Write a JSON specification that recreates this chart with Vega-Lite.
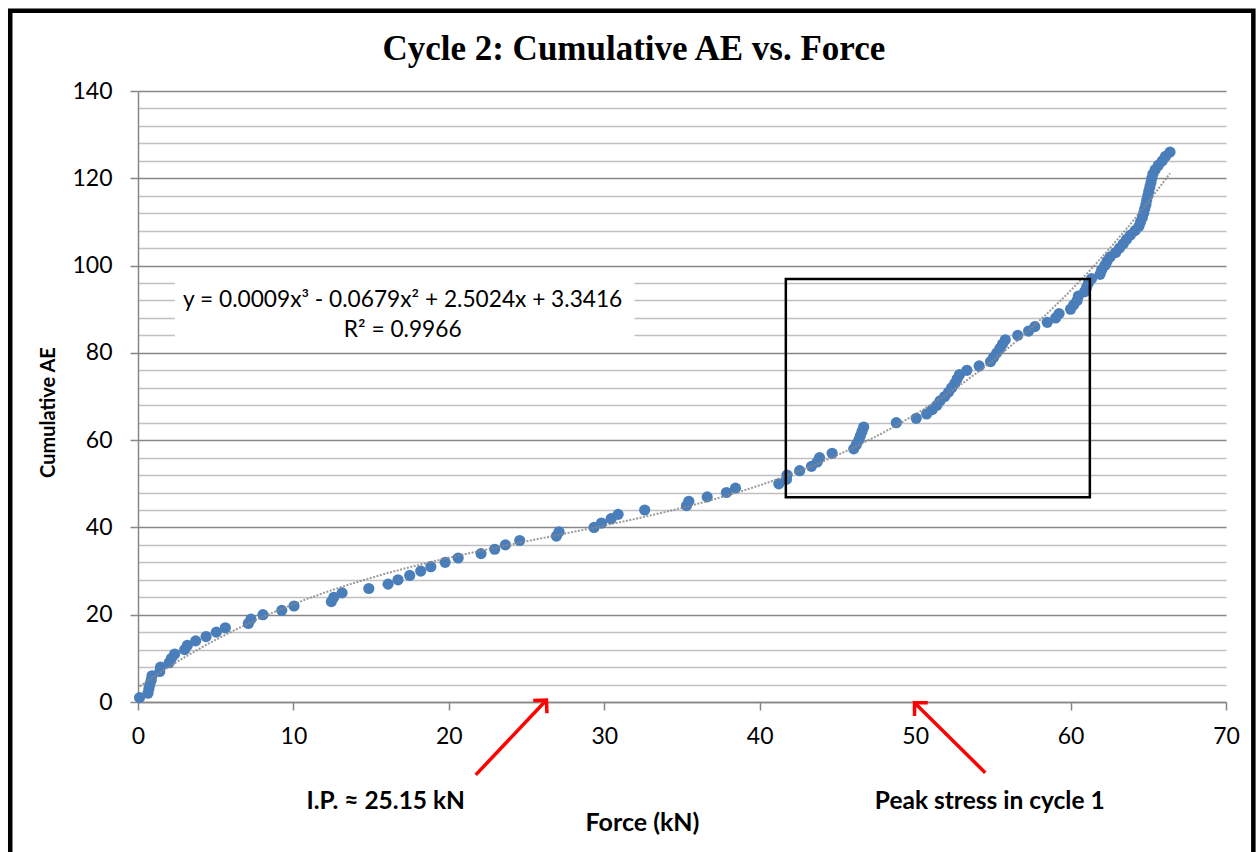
{
  "$schema": "https://vega.github.io/schema/vega-lite/v6.json",
  "autosize": {"type": "none"},
  "width": 1088,
  "height": 611,
  "padding": {"left": 138, "top": 91, "right": 31, "bottom": 150},
  "background": "#ffffff",
  "config": {"view": {"stroke": null}},
  "datasets": {
    "ae": [
      {"force": 0.1, "ae": 1}, {"force": 0.64, "ae": 2}, {"force": 0.7, "ae": 3}, {"force": 0.76, "ae": 4}, {"force": 0.85, "ae": 5},
      {"force": 0.9, "ae": 6}, {"force": 1.4, "ae": 7}, {"force": 1.45, "ae": 8}, {"force": 2.0, "ae": 9}, {"force": 2.15, "ae": 10},
      {"force": 2.36, "ae": 11}, {"force": 3.0, "ae": 12}, {"force": 3.18, "ae": 13}, {"force": 3.71, "ae": 14}, {"force": 4.38, "ae": 15},
      {"force": 5.04, "ae": 16}, {"force": 5.62, "ae": 17}, {"force": 7.1, "ae": 18}, {"force": 7.27, "ae": 19}, {"force": 8.04, "ae": 20},
      {"force": 9.25, "ae": 21}, {"force": 10.04, "ae": 22}, {"force": 12.44, "ae": 23}, {"force": 12.6, "ae": 24}, {"force": 13.13, "ae": 25},
      {"force": 14.85, "ae": 26}, {"force": 16.09, "ae": 27}, {"force": 16.73, "ae": 28}, {"force": 17.48, "ae": 29}, {"force": 18.19, "ae": 30},
      {"force": 18.84, "ae": 31}, {"force": 19.76, "ae": 32}, {"force": 20.6, "ae": 33}, {"force": 22.07, "ae": 34}, {"force": 22.95, "ae": 35},
      {"force": 23.64, "ae": 36}, {"force": 24.56, "ae": 37}, {"force": 26.92, "ae": 38}, {"force": 27.09, "ae": 39}, {"force": 29.34, "ae": 40},
      {"force": 29.82, "ae": 41}, {"force": 30.44, "ae": 42}, {"force": 30.89, "ae": 43}, {"force": 32.6, "ae": 44}, {"force": 35.29, "ae": 45},
      {"force": 35.44, "ae": 46}, {"force": 36.62, "ae": 47}, {"force": 37.86, "ae": 48}, {"force": 38.44, "ae": 49}, {"force": 41.23, "ae": 50},
      {"force": 41.72, "ae": 51}, {"force": 41.76, "ae": 52}, {"force": 42.57, "ae": 53}, {"force": 43.33, "ae": 54}, {"force": 43.7, "ae": 55},
      {"force": 43.85, "ae": 56}, {"force": 44.66, "ae": 57}, {"force": 46.05, "ae": 58}, {"force": 46.22, "ae": 59}, {"force": 46.37, "ae": 60},
      {"force": 46.48, "ae": 61}, {"force": 46.58, "ae": 62}, {"force": 46.69, "ae": 63}, {"force": 48.79, "ae": 64}, {"force": 50.07, "ae": 65},
      {"force": 50.74, "ae": 66}, {"force": 51.1, "ae": 67}, {"force": 51.4, "ae": 68}, {"force": 51.6, "ae": 69}, {"force": 51.9, "ae": 70},
      {"force": 52.15, "ae": 71}, {"force": 52.35, "ae": 72}, {"force": 52.55, "ae": 73}, {"force": 52.7, "ae": 74}, {"force": 52.85, "ae": 75},
      {"force": 53.33, "ae": 76}, {"force": 54.12, "ae": 77}, {"force": 54.85, "ae": 78}, {"force": 55.05, "ae": 79}, {"force": 55.25, "ae": 80},
      {"force": 55.45, "ae": 81}, {"force": 55.62, "ae": 82}, {"force": 55.8, "ae": 83}, {"force": 56.6, "ae": 84}, {"force": 57.3, "ae": 85},
      {"force": 57.7, "ae": 86}, {"force": 58.5, "ae": 87}, {"force": 59.04, "ae": 88}, {"force": 59.26, "ae": 89}, {"force": 60.0, "ae": 90},
      {"force": 60.2, "ae": 91}, {"force": 60.42, "ae": 92}, {"force": 60.5, "ae": 93}, {"force": 60.9, "ae": 94}, {"force": 61.03, "ae": 95},
      {"force": 61.15, "ae": 96}, {"force": 61.35, "ae": 97}, {"force": 61.9, "ae": 98}, {"force": 62.0, "ae": 99}, {"force": 62.2, "ae": 100},
      {"force": 62.35, "ae": 101}, {"force": 62.55, "ae": 102}, {"force": 62.9, "ae": 103}, {"force": 63.15, "ae": 104}, {"force": 63.39, "ae": 105},
      {"force": 63.6, "ae": 106}, {"force": 63.85, "ae": 107}, {"force": 64.15, "ae": 108}, {"force": 64.4, "ae": 109}, {"force": 64.5, "ae": 110},
      {"force": 64.62, "ae": 111}, {"force": 64.7, "ae": 112}, {"force": 64.77, "ae": 113}, {"force": 64.85, "ae": 114}, {"force": 64.9, "ae": 115},
      {"force": 64.97, "ae": 116}, {"force": 65.03, "ae": 117}, {"force": 65.1, "ae": 118}, {"force": 65.17, "ae": 119}, {"force": 65.23, "ae": 120},
      {"force": 65.3, "ae": 121}, {"force": 65.45, "ae": 122}, {"force": 65.65, "ae": 123}, {"force": 65.9, "ae": 124}, {"force": 66.1, "ae": 125},
      {"force": 66.4, "ae": 126}
    ],
    "frame": [{"force": -8.22, "force2": 71.76, "ae": 158.4, "ae2": -40.8}],
    "eqbox": [{"force": 2.37, "force2": 31.95, "ae": 98.9, "ae2": 81.7}],
    "box": [{"force": 41.68, "force2": 61.24, "ae": 96.9, "ae2": 46.9}],
    "titletext": [{"force": 31.9, "ae": 149.6, "label": "Cycle 2: Cumulative AE vs. Force"}],
    "eqtext": [
      {"force": 17.03, "ae": 92.2, "label": "y = 0.0009x³ - 0.0679x² + 2.5024x + 3.3416"},
      {"force": 17.03, "ae": 85.3, "label": "R² = 0.9966"}
    ],
    "arrows": [
      {"name": "ip", "force": 21.73, "ae": -16.7, "force2": 26.28, "ae2": 0.46},
      {"name": "peak", "force": 54.51, "ae": -16.2, "force2": 49.96, "ae2": -0.16}
    ],
    "notes": [
      {"force": 15.94, "ae": -23, "label": "I.P. ≈ 25.15 kN"},
      {"force": 54.8, "ae": -23, "label": "Peak stress in cycle 1"}
    ]
  },
  "encoding": {
    "x": {
      "field": "force", "type": "quantitative",
      "scale": {"domain": [0, 70], "nice": false, "zero": false},
      "axis": {
        "values": [0, 10, 20, 30, 40, 50, 60, 70],
        "title": "Force (kN)", "titleFont": "Lato", "titleFontSize": 25, "titleFontWeight": "bold", "titleColor": "#000000",
        "titleX": 504, "titleY": 120, "titleAlign": "center", "titleBaseline": "middle",
        "labelFont": "Lato", "labelFontSize": 23, "labelColor": "#000000", "labelPadding": 15,
        "labelFlush": false, "labelOverlap": false,
        "grid": false, "tickColor": "#868686", "tickSize": 8, "tickWidth": 1.5,
        "domainColor": "#868686", "domainWidth": 1.5
      }
    },
    "y": {
      "field": "ae", "type": "quantitative",
      "scale": {"domain": [0, 140], "nice": false, "zero": false},
      "axis": {
        "values": [0, 4, 8, 12, 16, 20, 24, 28, 32, 36, 40, 44, 48, 52, 56, 60, 64, 68, 72, 76, 80, 84, 88, 92, 96, 100, 104, 108, 112, 116, 120, 124, 128, 132, 136, 140],
        "title": "Cumulative AE", "titleFont": "Lato", "titleFontSize": 20, "titleFontWeight": "bold", "titleColor": "#000000",
        "titleAngle": -90, "titleX": -90, "titleY": 321, "titleAlign": "center", "titleBaseline": "middle",
        "labelExpr": "datum.value % 20 === 0 ? datum.label : ''",
        "labelFont": "Lato", "labelFontSize": 23, "labelColor": "#000000", "labelPadding": 18,
        "labelFlush": false, "labelOverlap": false,
        "grid": true,
        "gridColor": {"condition": {"test": "datum.value % 20 === 0", "value": "#868686"}, "value": "#c0c0c0"},
        "gridWidth": 1.5,
        "tickColor": "#868686", "tickSize": 8, "tickWidth": 1.5,
        "tickOpacity": {"condition": {"test": "datum.value % 20 === 0", "value": 1}, "value": 0},
        "domainColor": "#868686", "domainWidth": 1.5
      }
    }
  },
  "layer": [
    {
      "data": {"name": "frame"},
      "mark": {"type": "rect", "fill": null, "fillOpacity": 0, "stroke": "#000000", "strokeWidth": 4.5, "clip": false},
      "encoding": {"x2": {"field": "force2"}, "y2": {"field": "ae2"}}
    },
    {
      "data": {"name": "titletext"},
      "mark": {"type": "text", "font": "Liberation Serif", "fontSize": 35, "fontWeight": "bold", "color": "#000000", "align": "center", "baseline": "middle", "clip": false},
      "encoding": {"text": {"field": "label"}}
    },
    {
      "data": {"name": "eqbox"},
      "mark": {"type": "rect", "fill": "#ffffff", "stroke": null},
      "encoding": {"x2": {"field": "force2"}, "y2": {"field": "ae2"}}
    },
    {
      "data": {"name": "ae"},
      "mark": {"type": "point", "filled": true, "shape": "circle", "size": 125, "color": "#4a7ebb", "opacity": 1}
    },
    {
      "data": {"name": "ae"},
      "transform": [{"regression": "ae", "on": "force", "method": "poly", "order": 3}],
      "mark": {"type": "line", "color": "#8a8a8a", "strokeWidth": 2, "strokeDash": [2, 1.5], "opacity": 0.85}
    },
    {
      "data": {"name": "box"},
      "mark": {"type": "rect", "fill": null, "fillOpacity": 0, "stroke": "#000000", "strokeWidth": 2.5},
      "encoding": {"x2": {"field": "force2"}, "y2": {"field": "ae2"}}
    },
    {
      "data": {"name": "eqtext"},
      "mark": {"type": "text", "font": "Lato", "fontSize": 22.7, "color": "#000000", "align": "center", "baseline": "middle"},
      "encoding": {"text": {"field": "label"}}
    },
    {
      "data": {"name": "arrows"},
      "mark": {"type": "rule", "color": "#ff0000", "strokeWidth": 3.5, "clip": false},
      "encoding": {"x2": {"field": "force2"}, "y2": {"field": "ae2"}}
    },
    {
      "data": {"name": "arrows"},
      "transform": [{"filter": "datum.name === 'ip'"}],
      "mark": {"type": "point", "shape": "M-1,1L0,0L1,1", "filled": false, "stroke": "#ff0000", "strokeWidth": 3.5, "size": 350, "angle": 43, "opacity": 1, "clip": false},
      "encoding": {"x": {"field": "force2", "type": "quantitative"}, "y": {"field": "ae2", "type": "quantitative"}}
    },
    {
      "data": {"name": "arrows"},
      "transform": [{"filter": "datum.name === 'peak'"}],
      "mark": {"type": "point", "shape": "M-1,1L0,0L1,1", "filled": false, "stroke": "#ff0000", "strokeWidth": 3.5, "size": 350, "angle": 315, "opacity": 1, "clip": false},
      "encoding": {"x": {"field": "force2", "type": "quantitative"}, "y": {"field": "ae2", "type": "quantitative"}}
    },
    {
      "data": {"name": "notes"},
      "mark": {"type": "text", "font": "Lato", "fontSize": 24.5, "fontWeight": "bold", "color": "#000000", "align": "center", "baseline": "middle", "clip": false},
      "encoding": {"text": {"field": "label"}}
    }
  ]
}
